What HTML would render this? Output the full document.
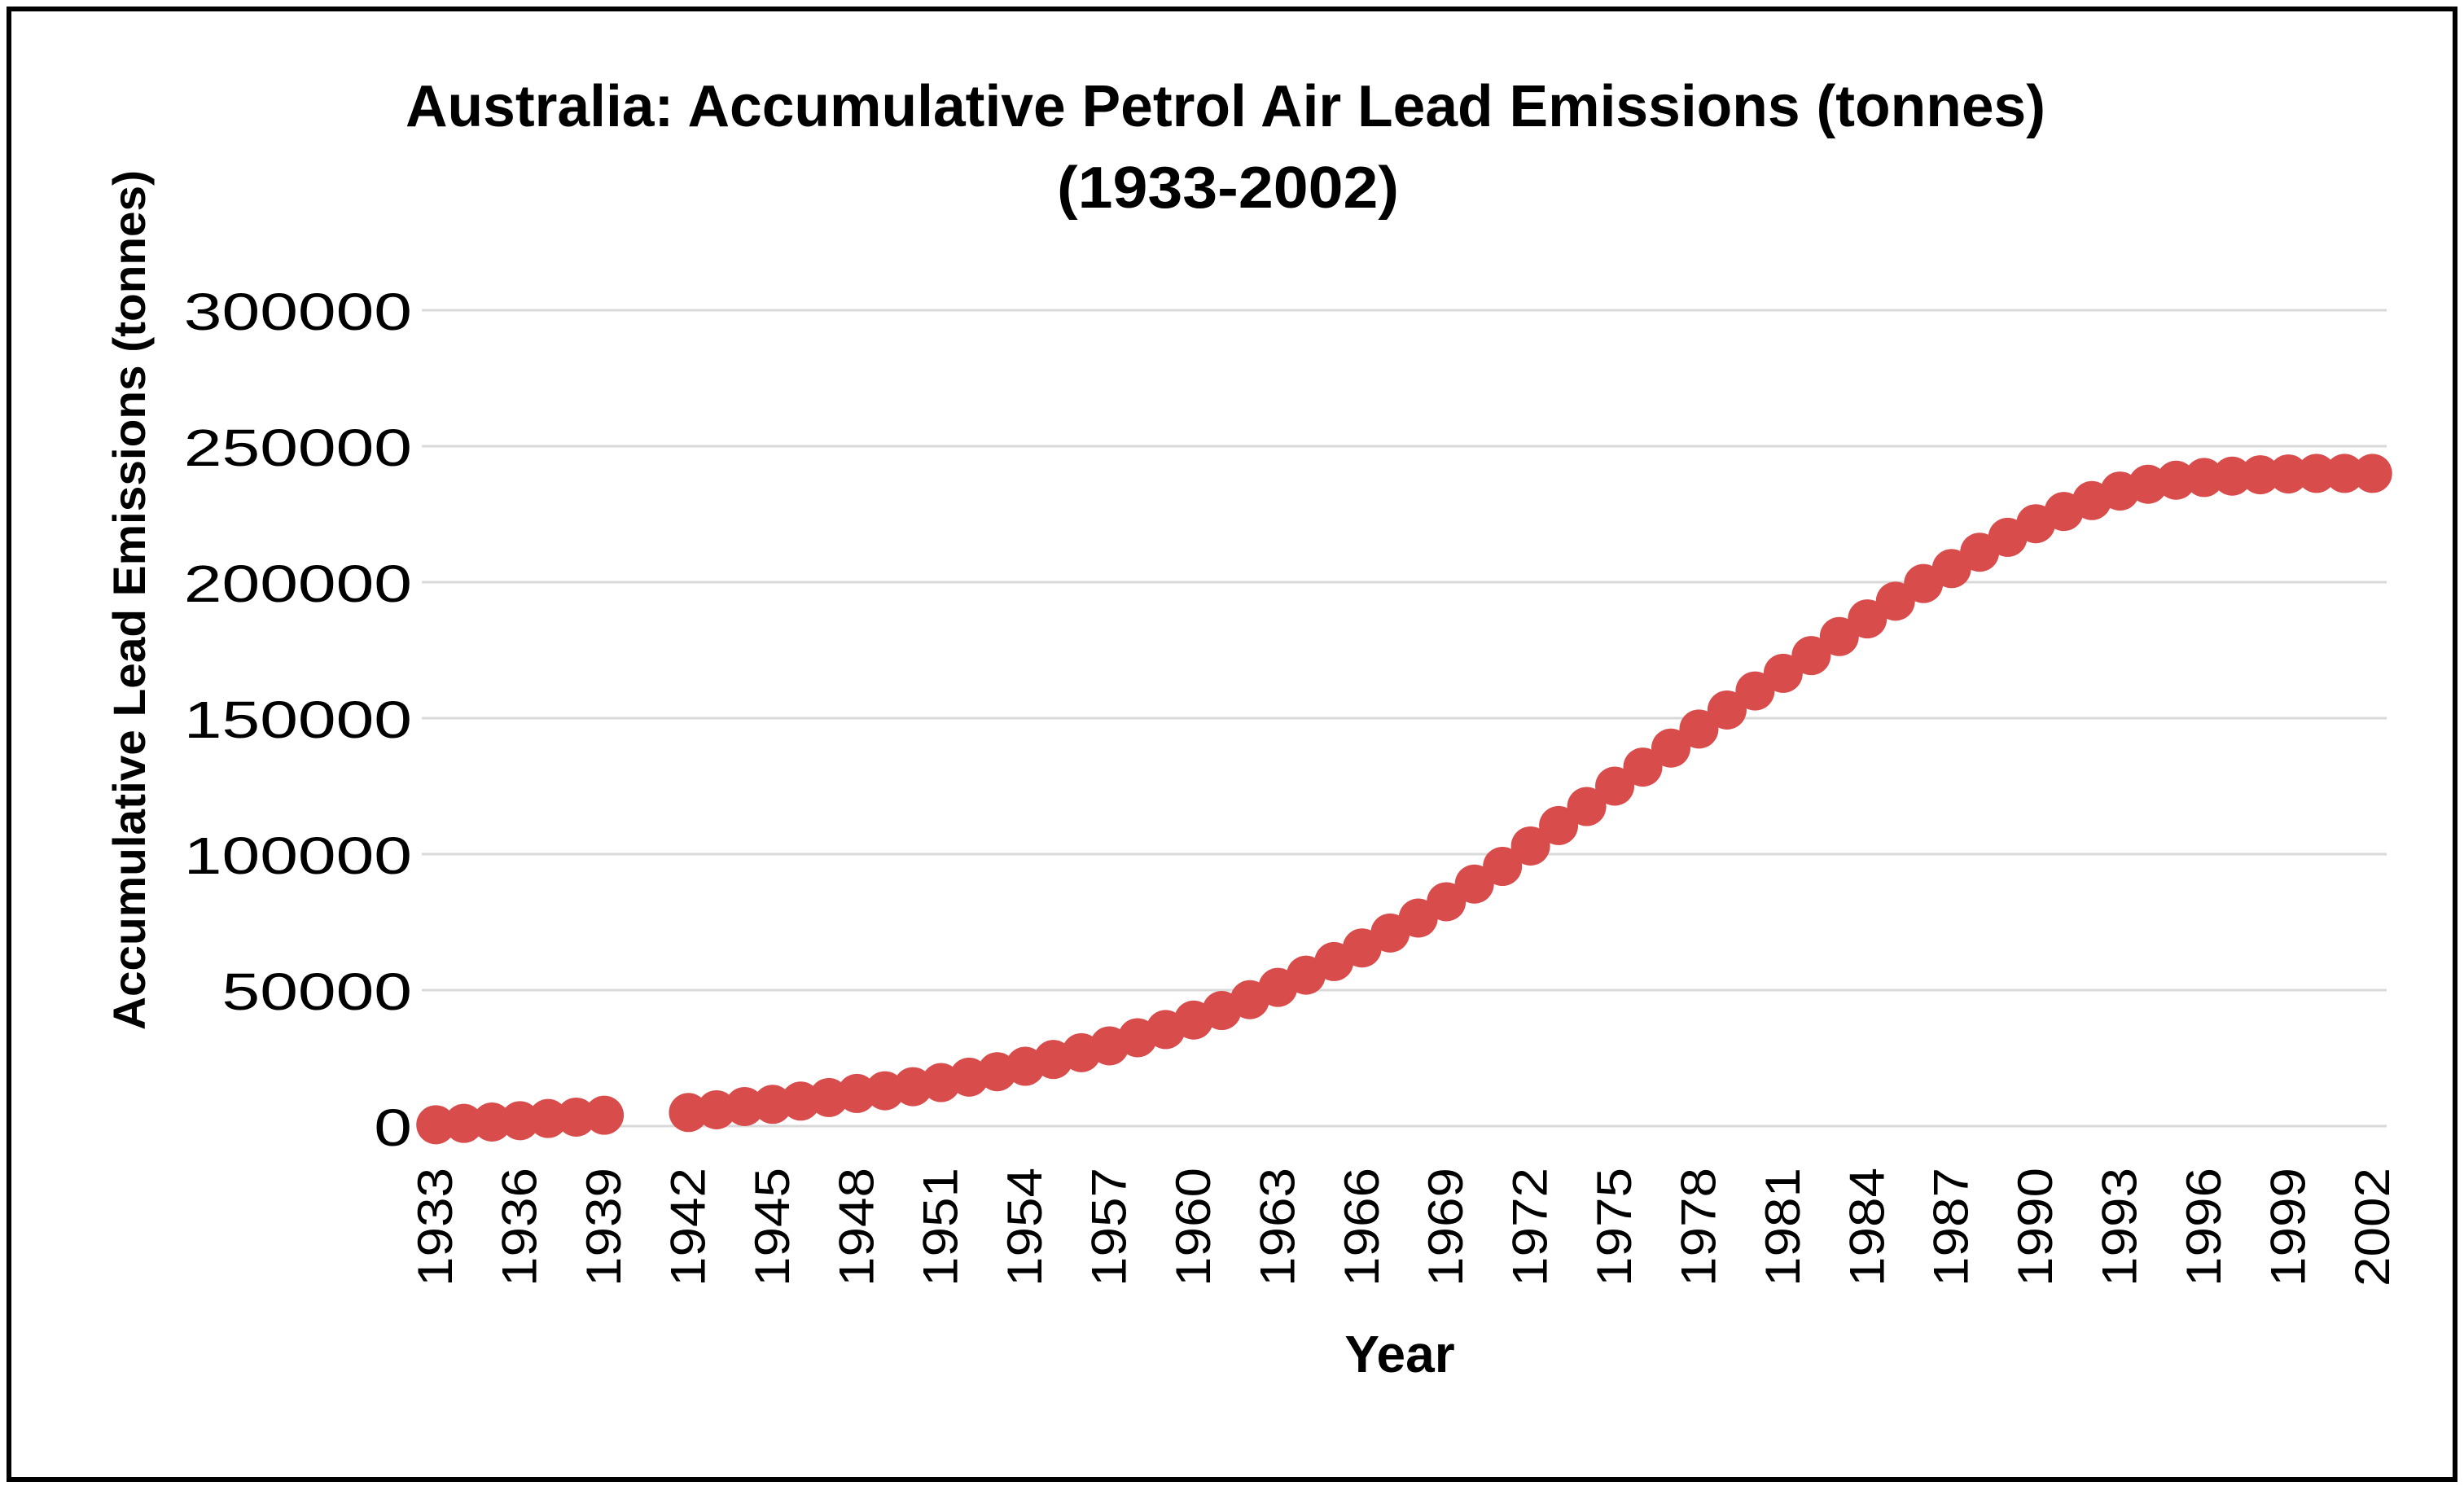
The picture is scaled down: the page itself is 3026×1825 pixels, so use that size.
<!DOCTYPE html>
<html><head><meta charset="utf-8"><style>
html,body{margin:0;padding:0;background:#fff;}
svg{display:block;}
text{font-family:"Liberation Sans",sans-serif;fill:#000;}
</style></head><body>
<svg id="chart" width="3026" height="1825" viewBox="0 0 3026 1825" xmlns="http://www.w3.org/2000/svg">
<rect x="11" y="11" width="3004" height="1806" fill="#fff" stroke="#000" stroke-width="6"/>
<text x="1505" y="155" font-size="72" font-weight="bold" text-anchor="middle" textLength="2014" lengthAdjust="spacingAndGlyphs">Australia: Accumulative Petrol Air Lead Emissions (tonnes)</text>
<text x="1508" y="255" font-size="72" font-weight="bold" text-anchor="middle" textLength="420" lengthAdjust="spacingAndGlyphs">(1933-2002)</text>
<g id="grid"></g>
<g id="yticks"></g>
<g id="xticks"></g>
<g id="points"></g>
<text transform="translate(178,737) rotate(-90)" font-size="56" font-weight="bold" text-anchor="middle" textLength="1056" lengthAdjust="spacingAndGlyphs">Accumulative Lead Emissions (tonnes)</text>
<text x="1719" y="1685" font-size="64" font-weight="bold" text-anchor="middle">Year</text>
</svg>
<script>
const years = [];
for (let y = 1933; y <= 2002; y++) years.push(y);
const emissions = [500,1000,1500,2000,2800,3300,4000,null,null,
5000,6000,7200,8000,9200,10500,12000,13000,14500,16000,18000,20000,22000,24500,27000,29500,32500,35500,39000,42500,46500,51000,55500,60500,65500,71000,76500,82500,89000,95500,103000,110500,117500,125000,132000,139000,146000,153000,160000,166500,173000,180000,186500,193000,199500,205000,211000,216500,221500,226000,230000,233500,236000,237500,238500,239000,239500,239800,240000,240000,240000];
const yTicks = [0,50000,100000,150000,200000,250000,300000];
const xTickYears = [];
for (let y = 1933; y <= 2002; y += 3) xTickYears.push(y);

const NS = "http://www.w3.org/2000/svg";
const plotL = 518, plotR = 2931, plotT = 381, plotB = 1383, yMax = 300000;
const band = (plotR - plotL) / years.length;
function xPos(i){ return plotL + band * (i + 0.5); }
function yPos(v){ return plotB - (v / yMax) * (plotB - plotT); }
function mk(tag, attrs, parent){
  const e = document.createElementNS(NS, tag);
  for (const k in attrs) e.setAttribute(k, attrs[k]);
  parent.appendChild(e);
  return e;
}
const grid = document.getElementById('grid');
const yt = document.getElementById('yticks');
yTicks.forEach(v => {
  const l = mk('line', {x1: plotL, x2: plotR, y1: yPos(v), y2: yPos(v), stroke: '#d9d9d9', 'stroke-width': 3}, grid);
  
  
  const s = String(v);
  const t = mk('text', {x: 506, y: yPos(v) + 24, 'font-family': 'DejaVu Sans, sans-serif', 'font-size': 64, 'text-anchor': 'end', fill: '#333', textLength: s.length * 46.7, lengthAdjust: 'spacingAndGlyphs'}, yt);
  t.textContent = s;
  
  
});
const xt = document.getElementById('xticks');
xTickYears.forEach(yr => {
  const i = years.indexOf(yr);
  const x = xPos(i) + 20;
  const t = mk('text', {transform: 'translate(' + x + ',1434) rotate(-90)', 'font-size': 60, 'text-anchor': 'end', textLength: 146, lengthAdjust: 'spacingAndGlyphs'}, xt);
  t.textContent = String(yr);
  
  
});
const pts = document.getElementById('points');
emissions.forEach((v, i) => {
  if (v === null) return;
  const c = mk('ellipse', {cx: xPos(i), cy: yPos(v), rx: 24, ry: 24, fill: '#d94c4c'}, pts);
  
  
});
</script>
</body></html>
